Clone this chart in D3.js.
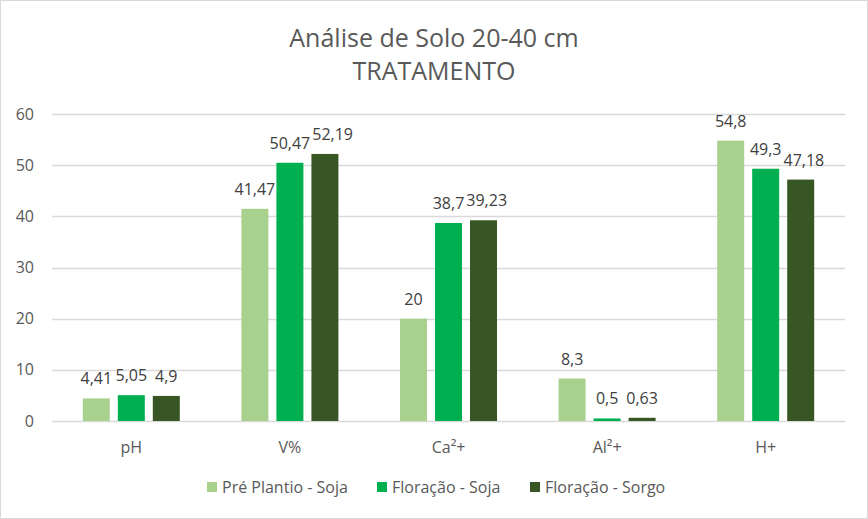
<!DOCTYPE html>
<html>
<head>
<meta charset="utf-8">
<script src="https://cdn.jsdelivr.net/npm/d3@7"></script>
<style>
  body { margin: 0; background: #fff; }
  svg { display: block; font-family: "Open Sans", "Liberation Sans", sans-serif; }
</style>
</head>
<body>
<svg></svg>
<script>
let width = 868,
    height = 519,
    margin = {top: 114, right: 23, bottom: 98, left: 52}

const categories = ["pH", "V%", "Ca²+", "Al²+", "H+"]
const seriesNames = ["Pré Plantio - Soja", "Floração - Soja", "Floração - Sorgo"]
const preSoja = [4.41, 41.47, 20, 8.3, 54.8]
const floSoja = [5.05, 50.47, 38.7, 0.5, 49.3]
const floSorgo = [4.9, 52.19, 39.23, 0.63, 47.18]
const yTicks = [0, 10, 20, 30, 40, 50, 60]
const colors = ["#A9D18E", "#00B050", "#375623"]

const series = [preSoja, floSoja, floSorgo]

const svg = d3.select("svg")
    .attr("width", width)
    .attr("height", height)

// border of chart area
svg.append("rect")
    .attr("x", 0.5).attr("y", 0.5)
    .attr("width", width - 1).attr("height", height - 1)
    .attr("fill", "#fff")
    .attr("stroke", "#D9D9D9")

const x = d3.scaleBand()
    .domain(categories)
    .range([margin.left, width - margin.right])

const x1 = d3.scaleBand()
    .domain(d3.range(series.length))
    .range([0, x.bandwidth()])
    .paddingInner(0.229)
    .paddingOuter(0.88)

const y = d3.scaleLinear()
    .domain([0, 60])
    .range([height - margin.bottom, margin.top])

// gridlines
svg.append("g")
    .selectAll("line")
    .data(yTicks)
    .enter()
    .append("line")
    .attr("x1", margin.left)
    .attr("x2", width - margin.right)
    .attr("y1", d => Math.round(y(d)) + 0.5)
    .attr("y2", d => Math.round(y(d)) + 0.5)
    .attr("stroke", "#D9D9D9")
    .attr("stroke-width", 1.3)

// y tick labels
svg.append("g")
    .selectAll("text")
    .data(yTicks)
    .enter()
    .append("text")
    .attr("x", 34)
    .attr("y", d => y(d))
    .attr("dy", "0.35em")
    .attr("text-anchor", "end")
    .attr("fill", "#595959")
    .style("font-size", "16px")
    .text(d => d)

// bars
const fmt = v => String(v).replace(".", ",")
const labels = []

series.forEach((vals, si) => {
    const g = svg.append("g")
    g.selectAll("rect")
        .data(vals)
        .enter()
        .append("rect")
        .attr("x", (d, i) => x(categories[i]) + x1(si))
        .attr("width", x1.bandwidth())
        .attr("y", d => y(d))
        .attr("height", d => y(0) - y(d))
        .attr("fill", colors[si])

    g.selectAll("text")
        .data(vals)
        .enter()
        .append("text")
        .attr("x", (d, i) => x(categories[i]) + x1(si) + x1.bandwidth() / 2)
        .attr("y", d => y(d) - 14)
        .attr("text-anchor", "middle")
        .attr("fill", "#404040")
        .style("font-size", "16px")
        .text(fmt)
        .each(function(d, i) { labels.push({el: this, cat: i, si: si}) })
})

// nudge labels right when they collide with the neighbour on the left
categories.forEach((c, ci) => {
    const row = labels.filter(l => l.cat === ci).sort((a, b) => a.si - b.si)
    for (let k = 1; k < row.length; k++) {
        const prev = row[k - 1].el.getBBox()
        const cur = row[k].el.getBBox()
        const vOverlap = cur.y < prev.y + prev.height && prev.y < cur.y + cur.height
        if (vOverlap && cur.x < prev.x + prev.width + 2) {
            const shift = prev.x + prev.width + 2 - cur.x
            const el = d3.select(row[k].el)
            el.attr("x", +el.attr("x") + shift)
        }
    }
})

// category labels
svg.append("g")
    .selectAll("text")
    .data(categories)
    .enter()
    .append("text")
    .attr("x", d => x(d) + x.bandwidth() / 2)
    .attr("y", height - margin.bottom + 32)
    .attr("text-anchor", "middle")
    .attr("fill", "#595959")
    .style("font-size", "16px")
    .text(d => d)

// title
svg.append("text")
    .attr("x", width / 2)
    .attr("y", 47)
    .attr("text-anchor", "middle")
    .attr("fill", "#595959")
    .style("font-size", "25px")
    .text("Análise de Solo 20-40 cm")

svg.append("text")
    .attr("x", width / 2)
    .attr("y", 80)
    .attr("text-anchor", "middle")
    .attr("fill", "#595959")
    .style("font-size", "25px")
    .text("TRATAMENTO")

// legend
const legendX = [207, 377, 530]
const legend = svg.append("g")
seriesNames.forEach((name, i) => {
    legend.append("rect")
        .attr("x", legendX[i])
        .attr("y", 482)
        .attr("width", 10)
        .attr("height", 10)
        .attr("fill", colors[i])
    legend.append("text")
        .attr("x", legendX[i] + 15)
        .attr("y", 487)
        .attr("dy", "0.35em")
        .attr("fill", "#595959")
        .style("font-size", "16px")
        .text(name)
})
</script>
</body>
</html>
